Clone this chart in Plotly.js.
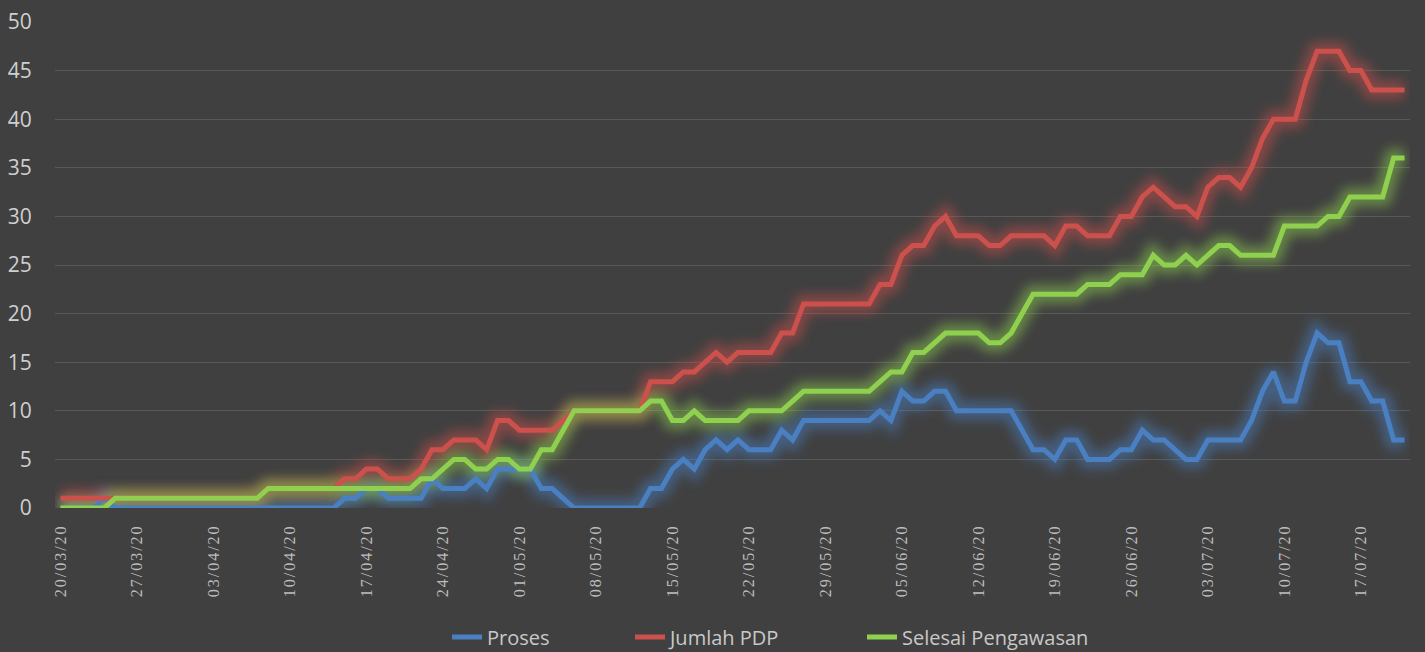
<!DOCTYPE html>
<html>
<head>
<meta charset="utf-8">
<script src="https://cdn.plot.ly/plotly-3.0.1.min.js"></script>
<style>
  html, body { margin: 0; padding: 0; background: #404040; }
  #chart { width: 1425px; height: 652px; }
  .xtick text { letter-spacing: 2px; }
</style>
</head>
<body>
<div id="chart"></div>
<script>
// Daily dates (categories), 20/03/2020 .. 21/07/2020
const dates = [
  '2020-03-20','2020-03-21','2020-03-22','2020-03-23','2020-03-24','2020-03-25','2020-03-26','2020-03-27','2020-03-28','2020-03-29',
  '2020-03-30','2020-03-31','2020-04-01','2020-04-02','2020-04-03','2020-04-04','2020-04-05','2020-04-06','2020-04-07','2020-04-08',
  '2020-04-09','2020-04-10','2020-04-11','2020-04-12','2020-04-13','2020-04-14','2020-04-15','2020-04-16','2020-04-17','2020-04-18',
  '2020-04-19','2020-04-20','2020-04-21','2020-04-22','2020-04-23','2020-04-24','2020-04-25','2020-04-26','2020-04-27','2020-04-28',
  '2020-04-29','2020-04-30','2020-05-01','2020-05-02','2020-05-03','2020-05-04','2020-05-05','2020-05-06','2020-05-07','2020-05-08',
  '2020-05-09','2020-05-10','2020-05-11','2020-05-12','2020-05-13','2020-05-14','2020-05-15','2020-05-16','2020-05-17','2020-05-18',
  '2020-05-19','2020-05-20','2020-05-21','2020-05-22','2020-05-23','2020-05-24','2020-05-25','2020-05-26','2020-05-27','2020-05-28',
  '2020-05-29','2020-05-30','2020-05-31','2020-06-01','2020-06-02','2020-06-03','2020-06-04','2020-06-05','2020-06-06','2020-06-07',
  '2020-06-08','2020-06-09','2020-06-10','2020-06-11','2020-06-12','2020-06-13','2020-06-14','2020-06-15','2020-06-16','2020-06-17',
  '2020-06-18','2020-06-19','2020-06-20','2020-06-21','2020-06-22','2020-06-23','2020-06-24','2020-06-25','2020-06-26','2020-06-27',
  '2020-06-28','2020-06-29','2020-06-30','2020-07-01','2020-07-02','2020-07-03','2020-07-04','2020-07-05','2020-07-06','2020-07-07',
  '2020-07-08','2020-07-09','2020-07-10','2020-07-11','2020-07-12','2020-07-13','2020-07-14','2020-07-15','2020-07-16','2020-07-17',
  '2020-07-18','2020-07-19','2020-07-20','2020-07-21'
];

const proses = [
  0,0,0,0,1,0,0,0,0,0,
  0,0,0,0,0,0,0,0,0,0,
  0,0,0,0,0,0,1,1,2,2,
  1,1,1,1,3,2,2,2,3,2,
  4,4,4,4,2,2,1,0,0,0,
  0,0,0,0,2,2,4,5,4,6,
  7,6,7,6,6,6,8,7,9,9,
  9,9,9,9,9,10,9,12,11,11,
  12,12,10,10,10,10,10,10,8,6,
  6,5,7,7,5,5,5,6,6,8,
  7,7,6,5,5,7,7,7,7,9,
  12,14,11,11,15,18,17,17,13,13,
  11,11,7,7
];

const jumlahPDP = [
  1,1,1,1,1,1,1,1,1,1,
  1,1,1,1,1,1,1,1,1,2,
  2,2,2,2,2,2,3,3,4,4,
  3,3,3,4,6,6,7,7,7,6,
  9,9,8,8,8,8,9,10,10,10,
  10,10,10,10,13,13,13,14,14,15,
  16,15,16,16,16,16,18,18,21,21,
  21,21,21,21,21,23,23,26,27,27,
  29,30,28,28,28,27,27,28,28,28,
  28,27,29,29,28,28,28,30,30,32,
  33,32,31,31,30,33,34,34,33,35,
  38,40,40,40,44,47,47,47,45,45,
  43,43,43,43
];

const selesai = [
  0,0,0,0,0,1,1,1,1,1,
  1,1,1,1,1,1,1,1,1,2,
  2,2,2,2,2,2,2,2,2,2,
  2,2,2,3,3,4,5,5,4,4,
  5,5,4,4,6,6,8,10,10,10,
  10,10,10,10,11,11,9,9,10,9,
  9,9,9,10,10,10,10,11,12,12,
  12,12,12,12,12,13,14,14,16,16,
  17,18,18,18,18,17,17,18,20,22,
  22,22,22,22,23,23,23,24,24,24,
  26,25,25,26,25,26,27,27,26,26,
  26,26,29,29,29,29,30,30,32,32,
  32,32,36,36
];

const tickDates = ['2020-03-20','2020-03-27','2020-04-03','2020-04-10','2020-04-17','2020-04-24','2020-05-01','2020-05-08',
  '2020-05-15','2020-05-22','2020-05-29','2020-06-05','2020-06-12','2020-06-19','2020-06-26','2020-07-03','2020-07-10','2020-07-17'];
const tickLabels = ['20/03/20','27/03/20','03/04/20','10/04/20','17/04/20','24/04/20','01/05/20','08/05/20',
  '15/05/20','22/05/20','29/05/20','05/06/20','12/06/20','19/06/20','26/06/20','03/07/20','10/07/20','17/07/20'];

const seriesNames = ['Proses', 'Jumlah PDP', 'Selesai Pengawasan'];
const seriesData = [proses, jumlahPDP, selesai];
const colors = ['#4a7fc2', '#cc504c', '#8fd14f'];
const legendIds = ['legend', 'legend2', 'legend3'];

const traces = [];
// glow layers
seriesData.forEach((d, k) => {
  traces.push({
    x: dates, y: d, type: 'scatter', mode: 'lines',
    line: { color: colors[k], width: 18, shape: 'linear' },
    opacity: 0.5, showlegend: false, hoverinfo: 'skip'
  });
});
// main lines
seriesData.forEach((d, k) => {
  traces.push({
    x: dates, y: d, type: 'scatter', mode: 'lines', name: seriesNames[k],
    legend: legendIds[k],
    line: { color: colors[k], width: 5, shape: 'linear' }
  });
});

function legendAt(px) {
  return {
    orientation: 'h', xref: 'container', yref: 'container',
    x: px / 1425, xanchor: 'left', y: 15 / 652, yanchor: 'middle',
    font: { family: 'Open Sans, sans-serif', size: 20, color: '#c8c8c8' },
    bgcolor: 'rgba(0,0,0,0)', itemwidth: 30
  };
}

const layout = {
  width: 1425, height: 652,
  paper_bgcolor: '#404040', plot_bgcolor: '#404040',
  margin: { l: 55, r: 15, t: 22, b: 144, autoexpand: false },
  showlegend: true,
  legend: legendAt(447),
  legend2: legendAt(630),
  legend3: legendAt(862),
  xaxis: {
    type: 'date',
    range: ['2020-03-19 12:00', '2020-07-21 12:00'],
    tickmode: 'array', tickvals: tickDates, ticktext: tickLabels,
    tickangle: -90,
    tickfont: { family: '"Liberation Serif", "DejaVu Serif", serif', size: 16, color: '#bdbdbd' },
    ticks: 'outside', ticklen: 9, tickcolor: 'rgba(0,0,0,0)',
    showgrid: false, zeroline: false, showline: false
  },
  yaxis: {
    range: [0, 50], dtick: 5,
    tickfont: { family: 'Open Sans, sans-serif', size: 21, color: '#cfcfcf' },
    ticks: 'outside', ticklen: 18, tickcolor: 'rgba(0,0,0,0)',
    showgrid: true, gridcolor: '#595959', gridwidth: 1,
    zeroline: false, showline: false
  },
  hovermode: false
};

Plotly.newPlot('chart', traces, layout, { displayModeBar: false, staticPlot: true }).then(gd => {
  const svg = gd.querySelector('.main-svg');
  const defs = svg.querySelector('defs');
  const ns = 'http://www.w3.org/2000/svg';
  const filter = document.createElementNS(ns, 'filter');
  filter.setAttribute('id', 'glowblur');
  filter.setAttribute('filterUnits', 'userSpaceOnUse');
  filter.setAttribute('x', '-200'); filter.setAttribute('y', '-200');
  filter.setAttribute('width', '2000'); filter.setAttribute('height', '1200');
  const blur = document.createElementNS(ns, 'feGaussianBlur');
  blur.setAttribute('stdDeviation', '6');
  filter.appendChild(blur);
  defs.appendChild(filter);
  const tr = gd.querySelectorAll('.scatterlayer .trace');
  for (let k = 0; k < 3; k++) {
    const p = tr[k].querySelector('.js-line');
    if (p) p.setAttribute('filter', 'url(#glowblur)');
  }
});
</script>
</body>
</html>
